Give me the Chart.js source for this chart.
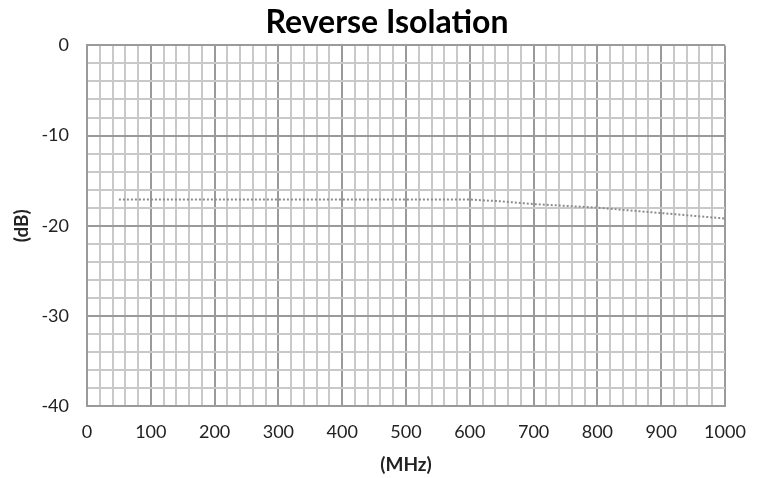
<!DOCTYPE html>
<html>
<head>
<meta charset="utf-8">
<script src="https://cdn.jsdelivr.net/npm/chart.js@4/dist/chart.umd.min.js"></script>
<style>
  html, body { margin: 0; padding: 0; background: #fff; }
  canvas { display: block; }
</style>
</head>
<body>
<canvas id="chart" width="764" height="478"></canvas>
<script>
// frequency points (MHz) and reverse isolation (dB)
const freqs = [50, 100, 150, 200, 250, 300, 350, 400, 450, 500, 550, 600, 650, 700, 750, 800, 850, 900, 950, 1000];
const isolation = [-17.1, -17.1, -17.1, -17.1, -17.1, -17.1, -17.1, -17.1, -17.1, -17.1, -17.1, -17.1, -17.3, -17.6, -17.8, -18.0, -18.3, -18.6, -18.9, -19.2];

const font = 'Lato, "Open Sans", sans-serif';
const minor = '#c9c9c9';
const major = '#9a9a9a';

function gridColor(ctx, every) {
  let v = ctx.tick ? ctx.tick.value : 0;
  return Math.abs(v % every) < 1e-6 ? major : minor;
}

let chart = new Chart(document.getElementById('chart'), {
  type: 'line',
  data: {
    datasets: [{
      data: freqs.map((f, i) => ({ x: f, y: isolation[i] })),
      borderColor: '#8c8c8c',
      borderWidth: 2,
      borderDash: [2, 2],
      pointRadius: 0,
      tension: 0,
      fill: false,
    }],
  },
  options: {
    responsive: false,
    animation: false,
    layout: { padding: { left: 10, right: 0, top: 0, bottom: 0 } },
    plugins: {
      legend: { display: false },
      tooltip: { enabled: false },
      title: {
        display: true,
        text: 'Reverse Isolation',
        color: '#000',
        font: { family: font, size: 32, weight: 'bold' },
        padding: { top: 3, bottom: 4 },
      },
    },
    scales: {
      x: {
        type: 'linear',
        min: 0,
        max: 1000,
        afterFit(scale) { scale.height = 72; },
        ticks: {
          stepSize: 20,
          autoSkip: false,
          maxRotation: 0,
          padding: 15,
          color: '#222',
          font: { family: font, size: 18 },
          callback: v => (v % 100 === 0 ? String(v) : ''),
        },
        grid: { color: ctx => gridColor(ctx, 100), lineWidth: 2, drawTicks: false },
        border: { color: major, width: 2 },
        title: {
          display: true,
          text: '(MHz)',
          color: '#222',
          font: { family: font, size: 19, weight: 'bold' },
          padding: { top: 4, bottom: 2 },
        },
      },
      y: {
        type: 'linear',
        min: -40,
        max: 0,
        afterFit(scale) { scale.width = 77; },
        ticks: {
          stepSize: 2,
          autoSkip: false,
          padding: 18,
          color: '#222',
          font: { family: font, size: 18 },
          callback: v => (v % 10 === 0 ? String(v) : ''),
        },
        grid: { color: ctx => gridColor(ctx, 10), lineWidth: 2, drawTicks: false },
        border: { color: major, width: 2 },
        title: {
          display: true,
          text: '(dB)',
          color: '#222',
          font: { family: font, size: 19, weight: 'bold' },
          padding: { top: 0, bottom: 0 },
        },
      },
      // empty right-hand axis, only reserves the margin right of the plot
      y2: {
        type: 'linear',
        position: 'right',
        min: -40,
        max: 0,
        afterFit(scale) { scale.width = 39; },
        ticks: { display: false },
        grid: { display: false, drawTicks: false },
        border: { display: false },
      },
    },
  },
});
</script>
</body>
</html>
